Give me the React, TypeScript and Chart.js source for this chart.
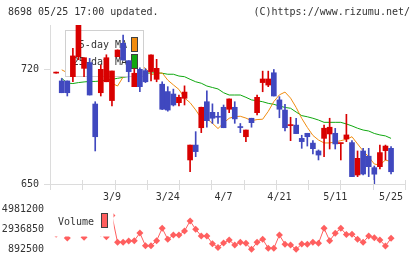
import { useEffect, useRef } from "react";
import { Chart, registerables } from "chart.js";

Chart.register(...registerables);

// Trading days shown on the chart (one candle each)
const DATES = [
  "2/21", "2/25", "2/26", "2/27", "2/28",
  "3/2", "3/3", "3/4", "3/5", "3/6", "3/9", "3/10", "3/11", "3/12", "3/13",
  "3/16", "3/17", "3/18", "3/19", "3/23", "3/24", "3/25", "3/26", "3/27",
  "3/30", "3/31", "4/1", "4/2", "4/3", "4/6", "4/7", "4/8", "4/9", "4/10",
  "4/13", "4/14", "4/15", "4/16", "4/17", "4/20", "4/21", "4/22", "4/23", "4/24",
  "4/27", "4/28", "4/30", "5/1", "5/7", "5/8", "5/11", "5/12", "5/13", "5/14",
  "5/15", "5/18", "5/19", "5/20", "5/21", "5/22", "5/25",
];

const OPEN = [
  717.8, 713, 713, 715.6, 727.8, 720.7, 724.2, 698.9, 705.8, 712.5,
  701, 727.8, 736, 725.4, 709.5, 720.1, 719.3, 718.7, 714, 711,
  706.5, 705, 699.7, 702.4, 664.7, 673.8, 684.4, 700.3, 693.8, 691.2,
  696.9, 695.7, 696.9, 685, 678.9, 690.2, 693.6, 712, 710.5, 718,
  701.4, 695.2, 685.7, 686, 677.9, 681, 675, 670.2, 677.9, 680.6,
  681, 674.7, 677.5, 675.3, 655.5, 670.2, 667, 660, 660.6, 670.4,
  671.8,
];
const HIGH = [
  718.2, 714.5, 713, 733, 750, 727.2, 726.8, 700.3, 722.8, 729,
  719.1, 732, 741, 725.4, 720.5, 721, 720.5, 729, 726.2, 712.5,
  709.5, 708, 704.4, 710, 673.8, 682, 697, 707, 699, 693.8,
  698.3, 702, 700.3, 687, 683, 690.2, 704.4, 719, 719, 720,
  703.4, 698.7, 690.8, 690.2, 679.8, 681, 676.5, 670.8, 686, 690.2,
  684, 675, 692.6, 676.5, 670.2, 671.8, 671.8, 661, 673.8, 673.8,
  672.8,
];
const LOW = [
  717.8, 705.8, 703.8, 712.5, 726, 715.6, 704.4, 670.2, 703.8, 712.5,
  697.7, 727.8, 725.8, 712.5, 709.5, 706.4, 712, 713, 712.5, 695.5,
  694.5, 697.7, 697.7, 698.3, 657.5, 666.7, 681.4, 684.7, 687, 687,
  684.4, 693.6, 687.1, 681.4, 675.9, 684.7, 692.2, 706.4, 709.5, 703.8,
  690.5, 682.4, 676.5, 680.8, 671.8, 673.2, 668.4, 664.7, 666.7, 671.4,
  671.4, 664.7, 675.9, 654.5, 654.5, 655.5, 654.5, 650, 659.2, 664.7,
  656.1,
];
const CLOSE = [
  718, 705.8, 705.8, 728.3, 747.5, 727.2, 704.4, 678.9, 720.1, 727.2,
  719.1, 731.9, 725.8, 718.7, 717.7, 709.5, 712.5, 728.9, 720.7, 695.7,
  695.2, 698.3, 703, 706.2, 673.8, 669.8, 696.9, 688.7, 690.2, 690.8,
  684.4, 702, 689.8, 684.5, 683, 687.5, 703, 714.2, 714.2, 703.8,
  695.7, 684.4, 686, 680.8, 675.9, 678.9, 671.6, 667.7, 684.1, 684.7,
  674.5, 675, 680, 654.5, 665.7, 656.1, 660.6, 656, 669.2, 673.2,
  657.5,
];

// 5-day and 25-day moving averages
const MA5 = [
  null, 719.8, 718, 716.5, 716, 721.1, 722.9, 722.6, 717.3, 715.6,
  711.6, 709.9, 715.4, 724.8, 724.5, 722.6, 720.7, 716.8, 717.5, 717.9,
  713.5, 710.6, 707.8, 702.6, 699.7, 695.3, 690.2, 689.9, 687.1, 683.9,
  687.3, 690.2, 691.2, 691.4, 690.3, 688.7, 689.4, 689.6, 694.4, 700.4,
  704.5, 706.2, 702.5, 696.8, 690.1, 684.6, 679.7, 676.9, 675.1, 675.1,
  675.7, 676.5, 677.3, 678.9, 674.5, 670.2, 666.6, 662.2, 661.6, 664.7,
  663.6,
];
const MA25 = [
  null, 714.6, 711.7, 711.4, 712, 712.4, 712.7, 712.7, 713, 713.6,
  714, 714.6, 715.2, 715.7, 716.3, 716.6, 717.6, 717.9, 718, 717.7,
  717.1, 717.1, 716, 715.6, 714, 712.5, 711.6, 709.9, 709, 708.1,
  705.8, 704.4, 704.4, 704.4, 703, 701.4, 700.9, 700.3, 699.3, 698.7,
  697.7, 696.8, 696.3, 694, 691.8, 691.1, 690.2, 689.1, 687.7, 687.7,
  687.7, 687.7, 686.7, 685.5, 684.1, 683, 682.4, 680.9, 680, 679.4,
  677.9,
];

const VOLUME = [
  2400000, 2600000, 2016900, 2900000, 3400000, 2088400, 2700000, 3600000, 2500000, 2139500,
  4316800, 1577400, 1577400, 1710200, 1740900, 2528000, 1229800, 1229800, 1740900, 3008400,
  1884000, 2323500, 2323500, 2732400, 3754600, 2906200, 2221300, 2221300, 1434300, 1045800,
  1505800, 1812500, 1301400, 1577400, 1475100, 861800, 1577400, 1894200, 964100, 964100,
  2323500, 1383100, 1301400, 861800, 1403600, 1383100, 1577400, 1475100, 3008400, 1740900,
  2497300, 3008400, 2374700, 2395100, 1894200, 1577400, 2221300, 2047600, 1812500, 1199200,
  1986200,
];

const DATE_TICKS = ["3/9", "3/24", "4/7", "4/21", "5/11", "5/25"];
const PRICE_TICKS = [650, 720];
const VOLUME_TICKS = [892500, 2936850, 4981200];

const RED = "#d80000";
const BLUE = "#4048bf";
const ORANGE = "#f08c10";
const GREEN = "#10a810";
const PINK = "#ff5f5f";
const TEXT = "#333333";
const GRID = "#dcdcdc";
const FAMILY = '"DejaVu Sans Mono", monospace';
const FONT = { family: FAMILY, size: 10 };

const X_MIN = -1.1;
const X_MAX = 62.5;
const PRICE_MIN = 650;
const PRICE_MAX = 747.2;
// volume axis: 20px between consecutive ticks, area runs 43px above the lowest tick and 5px below
const VOL_PER_PX = (VOLUME_TICKS[2] - VOLUME_TICKS[0]) / 40;
const VOL_MIN = VOLUME_TICKS[0] - 5 * VOL_PER_PX;
const VOL_MAX = VOLUME_TICKS[0] + 43 * VOL_PER_PX;

const WICK_INDEX = 2;

// legend box for the moving averages, laid under the candles
const priceLegend = {
  id: "priceLegend",
  beforeDatasetDraw(chart: any, args: any) {
    if (args.index !== WICK_INDEX) return;
    const { ctx, chartArea: a } = chart;
    ctx.save();
    ctx.fillStyle = "#ffffff";
    ctx.fillRect(a.left + 15, a.top + 5, 79, 47);
    ctx.strokeStyle = "#d0d0d0";
    ctx.lineWidth = 1;
    ctx.strokeRect(a.left + 15.5, a.top + 5.5, 78, 46);
    ctx.font = `10px ${FAMILY}`;
    ctx.textAlign = "right";
    ctx.textBaseline = "middle";
    const items = [
      { label: "5-day MA", color: ORANGE },
      { label: "25-day MA", color: GREEN },
    ];
    items.forEach((it, k) => {
      const y = a.top + 12 + k * 17;
      ctx.fillStyle = TEXT;
      ctx.fillText(it.label, a.left + 77, y + 8.5);
      ctx.fillStyle = "#404040";
      ctx.fillRect(a.left + 81, y, 7, 15);
      ctx.fillStyle = it.color;
      ctx.fillRect(a.left + 82, y + 1, 5, 13);
    });
    ctx.restore();
  },
};

// short marks splitting the time axis into equal parts
const axisMarks = {
  id: "axisMarks",
  afterDraw(chart: any) {
    const { ctx, chartArea: a } = chart;
    ctx.save();
    ctx.strokeStyle = GRID;
    ctx.lineWidth = 1;
    ctx.beginPath();
    for (let k = 0; k <= 11; k++) {
      const x = Math.round(a.left + (k * (a.right - a.left)) / 11) + 0.5;
      ctx.moveTo(x, a.bottom - 4);
      ctx.lineTo(x, a.bottom + 6);
    }
    ctx.stroke();
    ctx.restore();
  },
};

const volumeLegend = {
  id: "volumeLegend",
  afterDatasetsDraw(chart: any) {
    const { ctx, chartArea: a } = chart;
    ctx.save();
    ctx.fillStyle = "#ffffff";
    ctx.fillRect(a.left, a.top - 1, 63.5, 31.5);
    ctx.font = `10px ${FAMILY}`;
    ctx.textAlign = "right";
    ctx.textBaseline = "middle";
    ctx.fillStyle = TEXT;
    ctx.fillText("Volume", a.left + 44, a.top + 16.5);
    ctx.fillStyle = "#404040";
    ctx.fillRect(a.left + 51, a.top + 7, 7, 15);
    ctx.fillStyle = PINK;
    ctx.fillRect(a.left + 52, a.top + 8, 5, 13);
    ctx.restore();
  },
};

export default function App() {
  const priceRef = useRef<HTMLCanvasElement>(null);
  const volRef = useRef<HTMLCanvasElement>(null);

  useEffect(() => {
    const idx = DATES.map((_, i) => i);
    const colors = idx.map((i) => (CLOSE[i] >= OPEN[i] ? RED : BLUE));

    const price = new Chart(priceRef.current as HTMLCanvasElement, {
      type: "bar",
      data: {
        datasets: [
          {
            type: "line",
            label: "5-day MA",
            data: idx.map((i) => ({ x: i, y: MA5[i] })),
            borderColor: ORANGE,
            borderWidth: 1,
            pointRadius: 0,
            tension: 0,
            order: 3,
          },
          {
            type: "line",
            label: "25-day MA",
            data: idx.map((i) => ({ x: i, y: MA25[i] })),
            borderColor: GREEN,
            borderWidth: 1,
            pointRadius: 0,
            tension: 0,
            order: 3,
          },
          {
            type: "bar",
            label: "wick",
            data: idx.map((i) => ({ x: i, y: [LOW[i], HIGH[i]] })),
            backgroundColor: colors,
            barThickness: 1,
            minBarLength: 1,
            grouped: false,
            clip: 0,
            order: 2,
          },
          {
            type: "bar",
            label: "body",
            data: idx.map((i) => ({ x: i, y: [OPEN[i], CLOSE[i]] })),
            backgroundColor: colors,
            barThickness: 5,
            minBarLength: 1,
            grouped: false,
            clip: 0,
            order: 1,
          },
        ] as any,
      },
      options: {
        responsive: false,
        animation: false,
        devicePixelRatio: 1,
        events: [],
        layout: { padding: { left: 0, right: 15, top: 25, bottom: 6 } },
        plugins: { legend: { display: false }, tooltip: { enabled: false } },
        scales: {
          x: {
            type: "linear",
            min: X_MIN,
            max: X_MAX,
            offset: false,
            afterBuildTicks: (s: any) => {
              s.ticks = DATE_TICKS.map((d) => ({ value: DATES.indexOf(d) }));
            },
            afterFit: (s: any) => {
              s.height = 20;
            },
            ticks: {
              autoSkip: false,
              maxRotation: 0,
              padding: 7,
              color: TEXT,
              font: FONT,
              callback: (v: any) => DATES[v] ?? "",
            },
            grid: { display: false, drawTicks: false },
            border: { display: true, color: GRID },
          },
          y: {
            min: PRICE_MIN,
            max: PRICE_MAX,
            afterBuildTicks: (s: any) => {
              s.ticks = PRICE_TICKS.map((v) => ({ value: v }));
            },
            afterFit: (s: any) => {
              s.width = 50;
            },
            ticks: { padding: 5, color: TEXT, font: FONT, callback: (v: any) => String(v) },
            grid: { drawOnChartArea: false, drawTicks: true, tickLength: 6, color: GRID },
            border: { display: true, color: GRID },
          },
        } as any,
      },
      plugins: [priceLegend, axisMarks],
    });

    const volume = new Chart(volRef.current as HTMLCanvasElement, {
      type: "line",
      data: {
        datasets: [
          {
            label: "Volume",
            data: idx.map((i) => ({ x: i, y: VOLUME[i] })),
            borderColor: PINK,
            borderWidth: 1,
            pointStyle: "rectRot",
            pointRadius: 3.5,
            pointBackgroundColor: PINK,
            pointBorderColor: PINK,
            pointBorderWidth: 0,
            tension: 0,
          },
        ] as any,
      },
      options: {
        responsive: false,
        animation: false,
        devicePixelRatio: 1,
        events: [],
        layout: { padding: { left: 0, right: 15, top: 16, bottom: 18 } },
        plugins: { legend: { display: false }, tooltip: { enabled: false } },
        scales: {
          x: { type: "linear", min: X_MIN, max: X_MAX, display: false },
          y: {
            min: VOL_MIN,
            max: VOL_MAX,
            afterBuildTicks: (s: any) => {
              s.ticks = VOLUME_TICKS.map((v) => ({ value: v }));
            },
            afterFit: (s: any) => {
              s.width = 50;
            },
            ticks: { padding: 6, color: TEXT, font: FONT, callback: (v: any) => String(v) },
            grid: { display: false, drawTicks: false },
            border: { display: false },
          },
        } as any,
      },
      plugins: [volumeLegend],
    });

    return () => {
      price.destroy();
      volume.destroy();
    };
  }, []);

  const textStyle: any = {
    position: "absolute",
    top: 6,
    font: `10px ${FAMILY}`,
    lineHeight: "12px",
    color: TEXT,
    whiteSpace: "pre",
  };

  return (
    <div
      style={{
        position: "fixed",
        left: 0,
        top: 0,
        width: 420,
        height: 259,
        overflow: "hidden",
        background: "#ffffff",
      }}
    >
      <canvas
        ref={priceRef}
        width={420}
        height={210}
        style={{ position: "absolute", left: 0, top: 0, width: 420, height: 210 }}
      />
      <canvas
        ref={volRef}
        width={420}
        height={82}
        style={{ position: "absolute", left: 0, top: 190, width: 420, height: 82 }}
      />
      <div style={{ ...textStyle, left: 8 }}>8698 05/25 17:00 updated.</div>
      <div style={{ ...textStyle, right: 10 }}>(C)https://www.rizumu.net/</div>
    </div>
  );
}
